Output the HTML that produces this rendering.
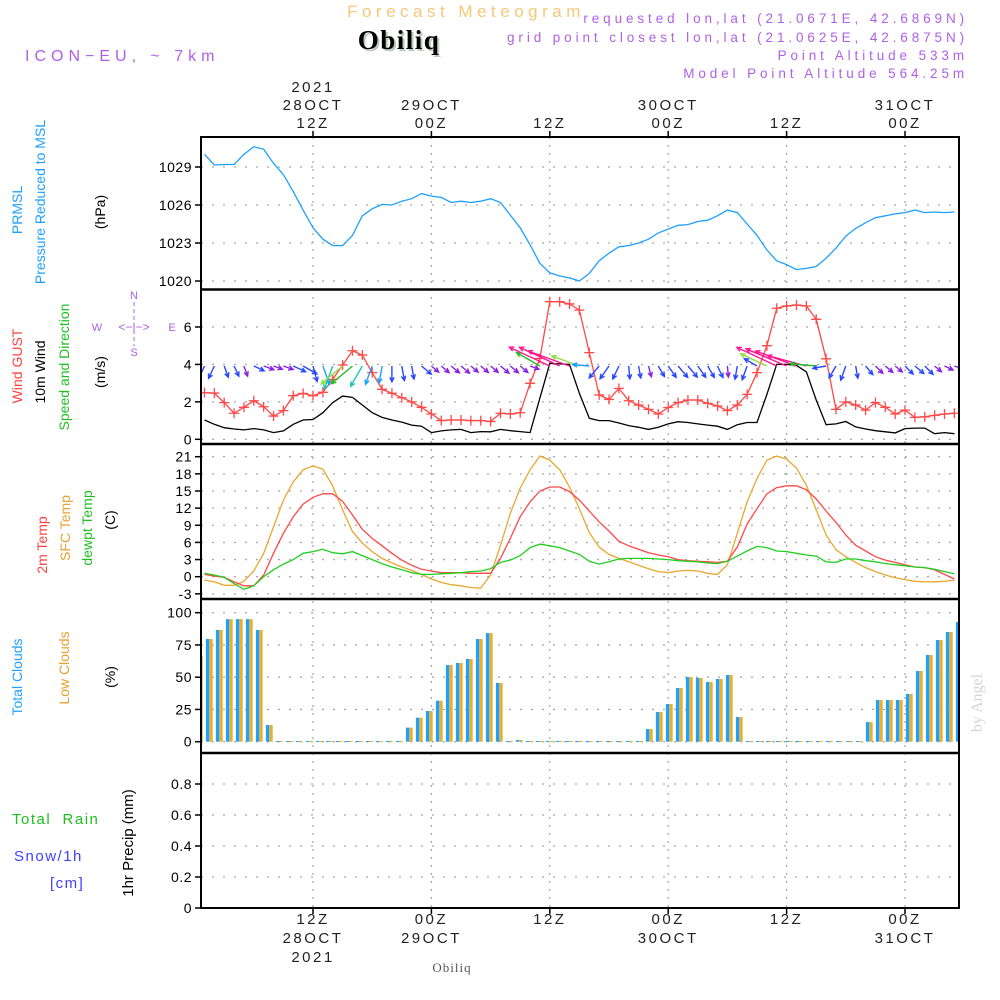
<!DOCTYPE html>
<html><head><meta charset="utf-8">
<style>
html,body{margin:0;padding:0;background:#fff;}
svg{display:block;font-family:"Liberation Sans",sans-serif;}
</style></head>
<body>
<svg id="chart" width="1000" height="1000" viewBox="0 0 1000 1000" xmlns="http://www.w3.org/2000/svg">
<rect x="0" y="0" width="1000" height="1000" fill="#fff"/>
<text x="466" y="17" text-anchor="middle" font-size="17" fill="#f5c878" letter-spacing="4.5">Forecast Meteogram</text>
<text x="401" y="51" text-anchor="middle" font-size="27" font-weight="bold" font-family="Liberation Serif, serif" fill="#b8ccb8" letter-spacing="1.5">Obiliq</text>
<text x="399" y="49" text-anchor="middle" font-size="27" font-weight="bold" font-family="Liberation Serif, serif" fill="#000" letter-spacing="1.5">Obiliq</text>
<text x="25" y="61" font-size="16" fill="#b060e8" letter-spacing="5">ICON−EU, ~ 7km</text>
<g font-size="13.5" fill="#b060e8" text-anchor="end" letter-spacing="3.9">
<text x="968" y="23">requested lon,lat (21.0671E, 42.6869N)</text>
<text x="968" y="42">grid point closest lon,lat (21.0625E, 42.6875N)</text>
<text x="968" y="60">Point Altitude 533m</text>
<text x="968" y="78">Model Point Altitude 564.25m</text>
</g>
<g id="grid"></g>
<g id="marks"></g>
<g id="frame"></g>
<g id="labels"></g>
<!-- left titles -->
<g font-size="14">
<text transform="translate(22,210) rotate(-90)" text-anchor="middle" fill="#1ea0ff">PRMSL</text>
<text transform="translate(45,202) rotate(-90)" text-anchor="middle" fill="#1ea0ff">Pressure Reduced to MSL</text>
<text transform="translate(105,212) rotate(-90)" text-anchor="middle" fill="#000">(hPa)</text>
<text transform="translate(22,366) rotate(-90)" text-anchor="middle" fill="#ff4040">Wind GUST</text>
<text transform="translate(45,372) rotate(-90)" text-anchor="middle" fill="#000">10m Wind</text>
<text transform="translate(69,367) rotate(-90)" text-anchor="middle" fill="#20c020">Speed and Direction</text>
<text transform="translate(105,372) rotate(-90)" text-anchor="middle" fill="#000">(m/s)</text>
<text transform="translate(47,545) rotate(-90)" text-anchor="middle" fill="#ff4040">2m Temp</text>
<text transform="translate(70,528) rotate(-90)" text-anchor="middle" fill="#e8a030">SFC Temp</text>
<text transform="translate(92,528) rotate(-90)" text-anchor="middle" fill="#20c020">dewpt Temp</text>
<text transform="translate(115,520) rotate(-90)" text-anchor="middle" fill="#000">(C)</text>
<text transform="translate(22,677) rotate(-90)" text-anchor="middle" fill="#1ea0ff">Total Clouds</text>
<text transform="translate(69,668) rotate(-90)" text-anchor="middle" fill="#e8a030">Low Clouds</text>
<text transform="translate(115,677) rotate(-90)" text-anchor="middle" fill="#000">(%)</text>
<text x="12" y="824" font-size="15" fill="#20c020" letter-spacing="1.5">Total&#160;&#160;Rain</text>
<text x="14" y="861" font-size="15" fill="#4040ff" letter-spacing="1.5">Snow/1h</text>
<text x="50" y="888" font-size="15" fill="#4040ff" letter-spacing="1.5">[cm]</text>
<text transform="translate(133,843) rotate(-90)" text-anchor="middle" font-size="15" fill="#000">1hr Precip (mm)</text>
<text transform="translate(982,703) rotate(-90)" text-anchor="middle" fill="#d4d4d4" font-family="Liberation Serif, serif" font-size="16">by Angel</text>
<text x="452" y="972" text-anchor="middle" font-size="13" fill="#555" font-family="Liberation Serif, serif" letter-spacing="1">Obiliq</text>
</g>
<g font-size="11" fill="#b060e8">
<text x="134" y="299" text-anchor="middle">N</text>
<text x="134" y="356" text-anchor="middle">S</text>
<text x="97" y="331" text-anchor="middle">W</text>
<text x="172" y="331" text-anchor="middle">E</text>
<text x="134" y="331" text-anchor="middle" font-size="12">&lt;−|−&gt;</text>
<line x1="134" y1="302" x2="134" y2="346" stroke="#b060e8" stroke-dasharray="4,3"/>
</g>
<script>
// time: hour index i -> hour (i+1) since 00Z 28 OCT
const startHour = 1;
const pressure = [1030.0,1029.16,1029.2,1029.2,1030.0,1030.6,1030.4,1029.3,1028.4,1027.05,1025.6,1024.2,1023.3,1022.8,1022.8,1023.6,1025.15,1025.7,1026.05,1026.0,1026.3,1026.5,1026.9,1026.7,1026.6,1026.2,1026.3,1026.2,1026.3,1026.5,1026.2,1025.2,1024.2,1022.85,1021.4,1020.65,1020.4,1020.25,1020.0,1020.6,1021.6,1022.2,1022.7,1022.8,1023.0,1023.3,1023.8,1024.1,1024.4,1024.45,1024.7,1024.8,1025.15,1025.6,1025.4,1024.5,1023.6,1022.45,1021.6,1021.3,1020.9,1021.0,1021.15,1021.8,1022.6,1023.55,1024.15,1024.6,1025.0,1025.15,1025.3,1025.4,1025.6,1025.4,1025.45,1025.4,1025.45];
const gust = [2.49,2.47,1.96,1.39,1.71,2.06,1.74,1.24,1.53,2.33,2.45,2.33,2.51,3.2,3.97,4.73,4.5,3.56,2.67,2.46,2.22,2.0,1.71,1.35,1.0,1.03,1.03,1.0,1.0,0.95,1.39,1.35,1.42,2.99,4.32,7.35,7.35,7.23,6.9,4.63,2.37,2.13,2.72,2.06,1.83,1.6,1.35,1.7,1.96,2.1,2.1,1.92,1.78,1.53,1.83,2.4,3.56,5.0,7.0,7.12,7.17,7.12,6.41,4.3,1.6,2.0,1.83,1.56,1.96,1.71,1.35,1.56,1.17,1.2,1.28,1.35,1.39];
const wind10m = [1.03,0.8,0.62,0.55,0.5,0.57,0.5,0.36,0.45,0.8,1.03,1.06,1.42,1.96,2.31,2.24,1.83,1.42,1.17,1.03,0.92,0.76,0.7,0.36,0.45,0.5,0.53,0.36,0.41,0.4,0.53,0.46,0.41,0.36,2.2,4.06,4.03,4.0,2.45,1.12,1.0,1.0,0.87,0.73,0.64,0.53,0.64,0.82,0.94,0.9,0.82,0.76,0.7,0.53,0.78,0.9,0.9,2.4,4.0,4.0,3.95,3.6,2.1,0.78,0.82,0.95,0.66,0.55,0.46,0.4,0.34,0.57,0.6,0.6,0.3,0.36,0.3];
const windDir = [205,205,160,155,160,115,110,110,110,115,120,165,160,200,230,230,210,200,190,180,170,170,130,130,130,130,130,130,130,130,130,130,130,110,300,295,295,290,290,275,220,215,205,175,170,165,150,145,140,140,145,150,155,175,190,200,300,295,295,293,290,285,275,260,210,200,170,140,135,130,130,135,130,135,130,115,110];
const temp2m = [0.4,0.1,-0.1,-0.9,-1.6,-1.6,0.3,4.1,7.6,10.5,12.7,13.9,14.5,14.5,13.2,10.8,8.3,6.7,5.4,4.1,2.9,2.0,1.3,1.0,0.7,0.7,0.7,0.6,0.6,0.6,3.2,6.7,10.5,13.1,15.0,15.7,15.7,14.9,13.4,11.5,9.6,8.0,6.2,5.4,4.8,4.2,3.8,3.5,3.0,2.8,2.7,2.6,2.5,2.7,5.2,9.2,11.9,14.5,15.6,15.9,15.9,15.2,13.6,11.5,9.5,7.3,5.5,4.5,3.5,2.9,2.5,2.1,1.7,1.6,1.2,0.4,-0.4];
const sfcTemp = [-0.6,-0.9,-1.5,-1.5,-0.8,1.0,4.1,8.7,13.4,16.6,18.7,19.4,18.8,15.9,11.7,7.9,5.9,4.4,3.2,2.4,1.7,1.1,0.4,-0.4,-1.0,-1.4,-1.6,-1.9,-2.0,0.3,5.5,11.1,15.5,18.7,21.1,20.4,18.7,15.7,11.9,7.7,5.2,3.9,3.2,2.6,2.0,1.4,0.9,0.7,1.0,1.1,1.0,0.6,0.4,2.1,7.6,13.1,17.2,20.4,21.1,20.6,19.0,16.0,11.7,7.3,4.7,3.5,2.5,1.6,0.9,0.3,-0.2,-0.5,-0.8,-0.9,-0.9,-0.8,-0.6];
const dewpt = [0.6,0.3,-0.1,-1.2,-2.2,-1.6,0.0,1.2,2.2,3.0,4.1,4.4,4.8,4.2,4.0,4.4,3.7,3.0,2.3,1.7,1.2,0.7,0.4,0.4,0.5,0.6,0.7,0.9,1.0,1.4,2.5,2.9,3.7,5.1,5.7,5.4,5.1,4.5,3.9,2.7,2.2,2.6,3.1,3.2,3.2,3.2,3.1,3.0,2.8,2.7,2.6,2.4,2.3,2.7,3.6,4.5,5.3,5.1,4.5,4.4,4.1,3.8,3.6,2.6,2.5,3.1,3.1,2.8,2.6,2.3,2.1,1.9,1.7,1.6,1.3,0.9,0.5];
const totalClouds = [66.4,79.6,86.6,95,95,95,86.6,12.9,0.5,0.5,0.5,0.5,0.5,0.5,0.5,0.5,0.5,0.5,0.5,0.5,0.5,10.9,18.6,23.8,31.8,59.4,61,64.1,79.6,84.2,45.5,0.5,1.3,0.5,0.5,0.5,0.5,0.5,0.5,0.5,0.5,0.5,0.5,0.5,0.5,9.8,23,29.2,41.6,50.1,49.4,46.3,48.6,51.7,19.1,0.5,0.5,0.5,0.5,0.5,0.5,0.5,0.5,0.5,0.5,0.5,0.5,15.2,32.3,32.3,32.3,37,54.8,67.2,78.8,85,92.8];
const lowClouds = totalClouds.slice();
const rainTotal = [];
const snow1h = [];
const pTicks = [1020,1023,1026,1029];
const wTicks = [0,2,4,6];
const tTicks = [-3,0,3,6,9,12,15,18,21];
const cTicks = [0,25,50,75,100];
const rTicks = [0,0.2,0.4,0.6,0.8];
const timeTickHours = [12,24,36,48,60,72];
const topTickLabels = [["2021","28OCT","12Z"],["29OCT","00Z"],["12Z"],["30OCT","00Z"],["12Z"],["31OCT","00Z"]];
const bottomTickLabels = [["12Z","28OCT","2021"],["00Z","29OCT"],["12Z"],["00Z","30OCT"],["12Z"],["00Z","31OCT"]];

const NS="http://www.w3.org/2000/svg";
const L=201,R=959;
const P={pT:137,pB:289,wT:290,wB:444,tT:444,tB:599,cT:599,cB:753,rT:753,rB:908};
const X=h=>313+(h-12)*9.867;
const yP=p=>167+(1029-p)*12.67;
const yW=v=>439.3-v*18.72;
const yT=t=>576.7-t*5.714;
const yC=c=>741.7-c*1.29;
const yR=r=>908-r*155;
const CX=i=>199.3+i*10.0;
function mk(tag,attrs,parent){const e=document.createElementNS(NS,tag);for(const k in attrs)e.setAttribute(k,attrs[k]);(parent||document.getElementById('marks')).appendChild(e);return e;}
const grid=document.getElementById('grid'),frame=document.getElementById('frame'),labels=document.getElementById('labels'),marks=document.getElementById('marks');

const defs=mk('defs',{},document.getElementById('chart'));
[['cp',P.pT,P.pB],['cw',P.wT,P.wB],['ct',P.tT,P.tB],['cc',P.cT,P.cB]].forEach(([id,a,b])=>{const c=mk('clipPath',{id:id},defs);mk('rect',{x:L,y:a,width:R-L,height:b-a},c);});

function yAxis(ticks,fy,fmt,name){
  ticks.forEach(t=>{
    const y=fy(t);
    const g=mk('line',{x1:L,x2:R,y1:y,y2:y,stroke:'#aaa','stroke-width':1.3,'stroke-dasharray':'2,9'},grid);
    
    
    const tk=mk('line',{x1:L-6,x2:L,y1:y,y2:y,stroke:'#000','stroke-width':1.5},frame);
    
    
    const tx=mk('text',{x:L-9,y:y+5,'text-anchor':'end','font-size':14,fill:'#000','letter-spacing':0.5},labels);
    tx.textContent=fmt(t);
    
    
  });
}
yAxis(pTicks,yP,t=>String(t),'pressure-y');
yAxis(wTicks,yW,t=>String(t),'wind-y');
yAxis(tTicks,yT,t=>String(t),'temp-y');
yAxis(cTicks,yC,t=>String(t),'cloud-y');
yAxis(rTicks,yR,t=>t===0?'0':t.toFixed(1),'precip-y');

timeTickHours.forEach((h,k)=>{
  const x=X(h);
  const v=mk('line',{x1:x,x2:x,y1:P.pT,y2:P.rB,stroke:'#aaa','stroke-width':1.3,'stroke-dasharray':'2,6'},grid);
  
  
  const t1=mk('line',{x1:x,x2:x,y1:P.pT-6,y2:P.pT,stroke:'#000','stroke-width':1.5},frame);
  
  
  const t2=mk('line',{x1:x,x2:x,y1:P.rB,y2:P.rB+6,stroke:'#000','stroke-width':1.5},frame);
  
  
  const top=topTickLabels[k];
  top.forEach((s,j)=>{
    const tx=mk('text',{x:x,y:128-(top.length-1-j)*18,'text-anchor':'middle','font-size':15,fill:'#222','letter-spacing':2.5},labels);
    tx.textContent=s;
    
    
  });
  bottomTickLabels[k].forEach((s,j)=>{
    const tx=mk('text',{x:x,y:924+j*19,'text-anchor':'middle','font-size':15,fill:'#222','letter-spacing':2.5},labels);
    tx.textContent=s;
    
    
  });
});

function line(arr,fy,color,clip,name,w){
  const pts=arr.map((v,i)=>X(i+startHour).toFixed(1)+','+fy(v).toFixed(1)).join(' ');
  const e=mk('polyline',{points:pts,fill:'none',stroke:color,'stroke-width':w||1.3,'clip-path':'url(#'+clip+')'});
  
  
  return e;
}
line(pressure,yP,'#1ea0ff','cp','pressure-line');
line(wind10m,yW,'#000','cw','wind-10m-line');
line(gust,yW,'#ff4848','cw','wind-gust-line');
gust.forEach((v,i)=>{
  const x=X(i+startHour),y=yW(v);
  const m=mk('path',{d:`M${x-5},${y}H${x+5}M${x},${y-5}V${y+5}`,stroke:'#ff4848','stroke-width':1.3,'clip-path':'url(#cw)'});
  
  
});
function wcol(s){if(s<0.55)return '#8a20e0';if(s<1.1)return '#2848ff';if(s<1.6)return '#1ea0ff';if(s<2.1)return '#20c8b0';if(s<2.3)return '#20c020';if(s<3.5)return '#90e040';return '#ff1493';}
windDir.forEach((d,i)=>{
  const s=wind10m[i],x=X(i+startHour),y=366;
  const len=6+9.5*s,a=d*Math.PI/180;
  const x2=x+len*Math.sin(a),y2=y-len*Math.cos(a);
  const hl=5,b1=a+Math.PI-0.45,b2=a+Math.PI+0.45;
  const d1=`M${x.toFixed(1)},${y}L${x2.toFixed(1)},${y2.toFixed(1)}M${(x2+hl*Math.sin(b1)).toFixed(1)},${(y2-hl*Math.cos(b1)).toFixed(1)}L${x2.toFixed(1)},${y2.toFixed(1)}L${(x2+hl*Math.sin(b2)).toFixed(1)},${(y2-hl*Math.cos(b2)).toFixed(1)}`;
  const e=mk('path',{d:d1,fill:'none',stroke:wcol(s),'stroke-width':1.4,'clip-path':'url(#cw)'});
  
  
});
line(sfcTemp,yT,'#e8a830','ct','sfc-temp-line');
line(temp2m,yT,'#ff4848','ct','temp-2m-line');
line(dewpt,yT,'#20d020','ct','dewpt-line');
totalClouds.forEach((v,i)=>{
  const cx=CX(i),y0=yC(0);
  const b=mk('rect',{x:cx-3.4,y:yC(v),width:3.4,height:Math.max(1,y0-yC(v)),fill:'#1ea0ff','clip-path':'url(#cc)'});
  
  
  const lv=lowClouds[i];
  const o=mk('rect',{x:cx,y:yC(lv),width:3.4,height:Math.max(1,y0-yC(lv)),fill:'#e8b030','clip-path':'url(#cc)'});
  
  
});
const z=mk('line',{x1:L,x2:R,y1:yR(0),y2:yR(0),stroke:'#000','stroke-width':2,'stroke-dasharray':'8,4'});



const fr=mk('rect',{x:L,y:P.pT,width:R-L,height:P.rB-P.pT,fill:'none',stroke:'#000','stroke-width':2},frame);


[P.pB+0.5,P.wB,P.tB,P.cB].forEach(y=>{
  const s=mk('line',{x1:L,x2:R,y1:y,y2:y,stroke:'#000','stroke-width':2.5},frame);
  
  
});
</script>
</svg>
</body></html>
